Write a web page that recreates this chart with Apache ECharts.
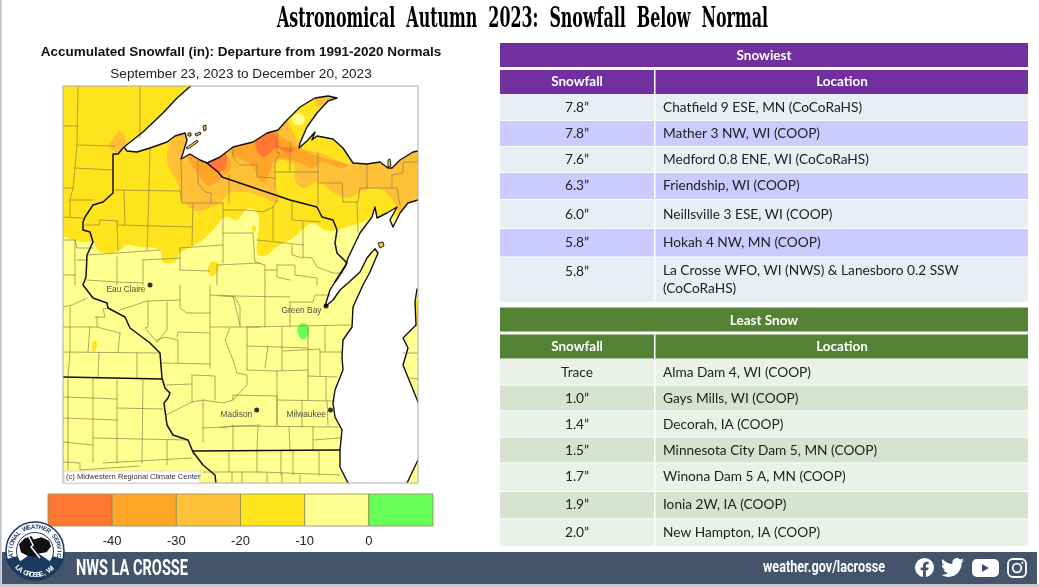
<!DOCTYPE html>
<html>
<head>
<meta charset="utf-8">
<title>Astronomical Autumn 2023: Snowfall Below Normal</title>
<script src="https://cdn.jsdelivr.net/npm/echarts@6/dist/echarts.min.js"></script>
<style>
html, body { margin: 0; padding: 0; background: #fff; }
#main { width: 1039px; height: 587px; }
</style>
</head>
<body>
<div id="main"></div>
<script>
// table values
var snowiestAmounts = ['7.8”', '7.8”', '7.6”', '6.3”', '6.0”', '5.8”', '5.8”'];
var snowiestSites = [
	'Chatfield 9 ESE, MN (CoCoRaHS)', 'Mather 3 NW, WI (COOP)', 'Medford 0.8 ENE, WI (CoCoRaHS)',
	'Friendship, WI (COOP)', 'Neillsville 3 ESE, WI (COOP)', 'Hokah 4 NW, MN (COOP)',
	'La Crosse WFO, WI (NWS) & Lanesboro 0.2 SSW\n(CoCoRaHS)'
];
var leastAmounts = ['Trace', '1.0”', '1.4”', '1.5”', '1.7”', '1.9”', '2.0”'];
var leastSites = [
	'Alma Dam 4, WI (COOP)', 'Gays Mills, WI (COOP)', 'Decorah, IA (COOP)',
	'Minnesota City Dam 5, MN (COOP)', 'Winona Dam 5 A, MN (COOP)', 'Ionia 2W, IA (COOP)',
	'New Hampton, IA (COOP)'
];

// colour scale
var departureEdges = [-50, -40, -30, -20, -10, 0, 10];
var departureColors = ['#ff7733', '#ffa629', '#ffc038', '#ffe31c', '#ffff90', '#66ff55'];

// map outlines, in map units
var bandMinus20 = [[[40, 60], [440, 60], [440, 205], [372, 218], [363, 222], [347, 227], [337, 230], [325, 230], [312, 223], [293, 238], [275, 248], [267, 255], [258, 255], [257, 240], [259, 227], [257, 212], [247, 209], [237, 220], [225, 217], [213, 230], [200, 242], [180, 253], [175, 262], [163, 262], [160, 250], [140, 247], [127, 245], [117, 252], [100, 252], [92, 242], [80, 242], [63, 236], [40, 230]],
	[[208, 268], [212, 262], [218, 263], [218, 270], [214, 276], [210, 275]],
	[[252, 227], [255, 226], [256, 231], [253, 232]],
	[[95, 340], [97, 343], [96, 349], [94, 352], [92, 348], [93, 342]],
	[[415, 302], [425, 298], [425, 330], [416, 325]]];
var bandMinus30 = [[[178, 128], [200, 110], [278, 110], [292, 130], [300, 145], [305, 150], [320, 153], [337, 160], [352, 164], [360, 150], [440, 135], [440, 215], [402, 217], [398, 210], [390, 197], [377, 188], [360, 192], [347, 198], [333, 192], [318, 182], [303, 188], [295, 180], [294, 165], [280, 160], [275, 167], [275, 182], [279, 197], [277, 203], [263, 197], [247, 192], [230, 193], [220, 203], [203, 210], [193, 210], [182, 198], [177, 182], [168, 165], [168, 148]],
	[[112, 140], [118, 132], [124, 134], [125, 145], [118, 152], [112, 150], [109, 145]],
	[[316, 98], [330, 93], [340, 97], [330, 104], [318, 106]]];
var bandMinus40 = [[[188, 156], [205, 150], [228, 158], [231, 168], [222, 177], [217, 182], [207, 185], [197, 173]],
	[[232, 140], [232, 155], [243, 160], [253, 167], [258, 177], [263, 182], [270, 172], [275, 160], [290, 160], [300, 163], [310, 168], [317, 165], [320, 162], [327, 163], [340, 168], [348, 165], [340, 162], [320, 157], [300, 148], [287, 140], [277, 132], [277, 122], [245, 125]]];
var bandBeyond40 = [[[207, 163], [212, 155], [225, 152], [226, 167], [220, 172], [213, 170]],
	[[255, 143], [262, 130], [272, 132], [278, 138], [280, 146], [295, 148], [288, 153], [277, 148], [263, 157]]];
var bandAboveNormal = [[[303, 323], [308, 326], [309, 332], [306, 338], [302, 339], [298, 334], [298, 327]]];
var paleSpots = [[[292, 118], [299, 113], [305, 119], [301, 125], [295, 124]]];

var superiorShore = [[190.7, 86], [177, 98], [163, 113], [143, 132], [124, 147], [127, 151], [137, 152], [150, 148], [167, 142], [175, 136], [185, 133], [187, 140], [183, 153], [181, 159], [190, 154], [200, 160], [207, 163], [220, 157], [233, 147], [253, 142], [267, 133], [278, 130], [287, 120], [300, 107], [315, 98], [328, 96], [337, 98], [328, 101], [317, 113], [307, 127], [300, 143], [299, 148], [308, 140], [315, 132], [312, 140], [317, 136], [333, 139], [343, 148], [353, 163], [367, 164], [380, 162], [388, 168], [392, 168], [400, 160], [413, 152], [418, 151]];
var superiorClose = [[418, 86]];
var michiganNorthShore = [[418, 200], [408, 203], [400, 213], [393, 227], [390, 220], [397, 207], [387, 213], [377, 218], [375, 207], [372, 217], [360, 233], [348, 258], [345, 267], [335, 282], [330, 290], [325, 306]];
var doorWestShore = [[326, 306], [333, 300], [340, 290], [348, 283], [360, 272], [367, 258], [372, 252], [375, 249]];
var doorEastShore = [[375, 249], [378, 253], [370, 272], [363, 285], [353, 307], [352, 327], [343, 340], [342, 357], [343, 370], [335, 390], [333, 403], [335, 417], [342, 430], [340, 450], [340, 467], [348, 483]];
var lowerPeninsulaShore = [[407, 483], [418, 460]];
var lowerPeninsulaUpper = [[418, 402], [403, 365], [408, 348], [403, 338], [416, 325], [415, 302], [417, 289]];
var michiganClose = [[418, 288]];
var islands = [[[203, 126], [206, 125], [206, 130], [204, 131]], [[195, 134], [200, 132], [201, 134], [196, 136]], [[188, 133], [191, 133], [191, 136], [188, 136]], [[186, 148], [197, 140], [198, 142], [188, 149]], [[378, 243], [383, 242], [384, 246], [380, 248]], [[388, 160], [390, 159], [391, 166], [388, 167]]];

var stateBorders = [
	[[123, 148], [118, 154], [113, 154], [113, 193], [103, 202], [93, 205], [85, 217], [83, 222], [83, 230], [90, 232], [93, 242], [87, 255], [86, 277], [83, 285], [93, 298], [107, 303], [108, 308], [125, 317], [130, 328], [150, 343], [160, 353], [162, 378], [165, 388], [170, 393], [168, 398], [164, 403], [167, 425], [173, 435], [188, 440], [193, 452], [203, 465], [215, 475], [216, 484]],
	[[63, 377], [162, 379]],
	[[193, 451], [340, 450]],
	[[207, 163], [218, 172], [222, 177], [290, 200], [317, 207], [322, 217], [333, 220], [337, 230], [335, 243], [337, 253], [347, 263], [335, 282]]
];
var countyLines = [
	[[78, 87], [77, 145], [75, 168], [73, 188], [70, 200], [70, 217]], [[140, 87], [140, 138]], [[63, 126], [78, 126]],
	[[77, 145], [115, 146]], [[75, 168], [113, 170]], [[63, 188], [73, 188]], [[70, 200], [93, 200]], [[63, 217], [83, 218]],
	[[150, 147], [149, 188], [148, 223], [147, 250]], [[115, 190], [180, 191]], [[124, 190], [125, 225]],
	[[180, 191], [182, 203], [223, 203]], [[181, 160], [182, 203]], [[193, 203], [192, 245]], [[100, 220], [118, 221]], [[100, 220], [99, 225], [85, 225]],
	[[118, 225], [192, 227]], [[117, 221], [118, 250]], [[180, 248], [180, 270]], [[180, 248], [223, 245]], [[223, 203], [223, 245], [223, 263]],
	[[180, 270], [210, 271]], [[218, 265], [260, 263]], [[217, 265], [217, 285]], [[198, 160], [198, 183], [205, 192], [211, 193], [211, 203]], [[229, 175], [229, 203]],
	[[223, 233], [253, 233], [255, 262], [265, 265], [265, 285]], [[88, 255], [160, 250]], [[117, 257], [117, 285]], [[87, 280], [117, 282], [143, 283]], [[143, 260], [143, 285]], [[143, 260], [180, 258]],
	[[63, 240], [75, 240], [77, 248], [93, 248]], [[75, 240], [75, 285]], [[77, 260], [87, 260]], [[63, 275], [75, 275]],
	[[233, 148], [233, 158], [240, 165], [257, 165], [257, 177], [275, 178]], [[277, 130], [277, 153], [280, 153], [275, 162], [275, 187]], [[275, 172], [318, 172]], [[318, 153], [318, 205]],
	[[290, 142], [290, 172]], [[318, 183], [342, 183], [343, 202]], [[367, 165], [367, 188]], [[360, 188], [397, 188], [400, 205]], [[360, 188], [358, 202], [343, 202]], [[357, 202], [358, 232]],
	[[392, 175], [392, 187]], [[392, 175], [403, 173], [403, 162], [418, 162]], [[223, 210], [247, 210], [263, 212], [273, 207], [277, 200]], [[273, 207], [273, 240]],
	[[292, 202], [292, 220], [320, 222]], [[303, 222], [303, 245]], [[257, 240], [303, 245]], [[292, 245], [292, 255], [303, 258]], [[303, 245], [303, 257], [312, 258], [317, 267], [333, 273], [343, 273]],
	[[277, 265], [295, 265], [295, 275], [317, 278], [317, 285]], [[265, 270], [277, 270]], [[277, 265], [277, 277], [290, 280]],
	[[63, 307], [72, 305], [87, 298]], [[70, 307], [70, 327], [70, 352], [68, 377]], [[63, 327], [97, 327]], [[95, 317], [105, 317], [103, 309], [108, 308]], [[90, 327], [88, 352]], [[97, 317], [97, 327], [120, 333]], [[120, 333], [118, 352]],
	[[63, 352], [160, 353]], [[99, 353], [98, 377]], [[137, 353], [137, 378]], [[148, 301], [148, 327], [145, 328], [157, 342]], [[120, 310], [147, 301], [180, 300]], [[167, 302], [167, 330], [157, 342]],
	[[157, 340], [165, 337], [178, 340], [178, 363]], [[177, 337], [178, 332], [210, 333]], [[180, 285], [180, 308], [187, 313], [210, 313]], [[210, 285], [210, 368]], [[210, 295], [235, 297], [240, 307], [240, 327]], [[210, 327], [260, 327]],
	[[162, 363], [210, 364]], [[192, 375], [215, 376], [215, 400]], [[192, 375], [192, 402]], [[166, 385], [192, 384]],
	[[166, 415], [192, 402], [203, 400], [223, 403], [233, 400], [247, 385], [247, 375], [237, 373], [233, 360], [225, 340], [230, 328]],
	[[203, 400], [203, 442]], [[203, 428], [260, 425]], [[233, 400], [233, 395], [277, 396], [277, 425]], [[233, 425], [233, 450]],
	[[93, 378], [93, 462]], [[117, 380], [117, 463]], [[143, 380], [142, 463]], [[167, 440], [167, 465]], [[63, 397], [93, 398], [117, 399]], [[117, 408], [163, 409]], [[63, 418], [117, 420]], [[93, 438], [188, 440]], [[63, 442], [93, 445]], [[68, 379], [68, 470]], [[63, 462], [80, 463], [80, 470], [140, 466]], [[103, 463], [192, 458]],
	[[229, 452], [229, 472]], [[203, 472], [260, 472]], [[232, 472], [232, 484]], [[220, 295], [233, 296], [240, 325]], [[265, 285], [265, 327]], [[233, 296], [290, 297]], [[290, 302], [290, 327]], [[290, 302], [313, 302], [315, 295], [330, 295]],
	[[247, 327], [350, 325]], [[247, 327], [247, 370]], [[247, 346], [308, 348]], [[268, 346], [265, 368]], [[282, 327], [282, 370]], [[308, 327], [308, 375]], [[325, 327], [325, 352]], [[283, 351], [320, 349], [320, 375]], [[320, 352], [342, 352]],
	[[247, 370], [277, 371], [308, 370]], [[277, 371], [277, 425]], [[308, 375], [308, 400]], [[308, 376], [337, 377]], [[326, 377], [326, 400]], [[277, 400], [335, 401]], [[302, 401], [302, 427]], [[327, 401], [328, 425]], [[220, 428], [233, 426], [338, 427]],
	[[258, 426], [257, 450]], [[289, 427], [290, 450]], [[313, 427], [313, 440], [340, 438]], [[313, 440], [313, 450]],
	[[257, 451], [257, 472]], [[281, 451], [281, 475]], [[293, 451], [293, 475]], [[319, 451], [319, 475]], [[260, 472], [340, 475]], [[242, 472], [242, 484]], [[267, 473], [267, 484]], [[282, 474], [282, 484]], [[300, 475], [300, 484]],
	[[403, 353], [417, 353]], [[410, 378], [418, 379]]
];
var cities = [['Eau Claire', 150, 285], ['Green Bay', 326, 306], ['Madison', 256.7, 410], ['Milwaukee', 330.5, 410]];

var mapLeft = 63, mapTop = 86, mapWidth = 355, mapHeight = 397;
var bodyFont = 'Lato, "Open Sans", sans-serif';
var navy = '#44546a';

function polygonSeries(rings, fill, smooth, stroke) {
	return {
		type: 'custom', xAxisIndex: 0, yAxisIndex: 0, silent: true, clip: true,
		data: rings.map(function(r, i) { return [i]; }),
		renderItem: function(params, api) {
			var pts = rings[api.value(0)].map(function(p) { return api.coord(p); });
			return {
				type: 'polygon',
				shape: { points: pts, smooth: smooth },
				style: { fill: fill, stroke: stroke || 'none', lineWidth: stroke ? 0.9 : 0 }
			};
		}
	};
}

function lineSeries(lines, stroke, width) {
	return {
		type: 'custom', xAxisIndex: 0, yAxisIndex: 0, silent: true, clip: true,
		data: lines.map(function(r, i) { return [i]; }),
		renderItem: function(params, api) {
			var pts = lines[api.value(0)].map(function(p) { return api.coord(p); });
			return {
				type: 'polyline',
				shape: { points: pts },
				style: { fill: 'none', stroke: stroke, lineWidth: width, lineJoin: 'round', lineCap: 'round' }
			};
		}
	};
}

// squeeze a string to the width it has in the picture
var measureCtx = document.createElement('canvas').getContext('2d');
function fitScale(text, font, width) {
	measureCtx.font = font;
	return width / measureCtx.measureText(text).width;
}

function rect(x, y, w, h, fill) {
	return { type: 'rect', z: 100, silent: true, shape: { x: x, y: y, width: w, height: h }, style: { fill: fill } };
}

function label(text, x, y, font, fill, align) {
	return {
		type: 'text', z: 101, silent: true, x: x, y: y,
		style: { text: text, font: font, fill: fill, align: align || 'left', verticalAlign: 'middle', lineHeight: 18 }
	};
}

function fittedLabel(text, x, y, font, fill, width) {
	var el = label(text, x, y, font, fill);
	el.scaleX = fitScale(text, font, width);
	return el;
}

function buildTable(top, title, headColor, oddColor, evenColor, amounts, sites, rowEdges, textCentres) {
	var left = 500, right = 1028, split = 655;
	var els = [
		rect(left, top, right - left, 24, headColor),
		rect(left, top + 27, right - left, 24, headColor),
		label(title, (left + right) / 2, top + 13, 'bold 13.5px ' + bodyFont, '#fff', 'center'),
		label('Snowfall', 577, top + 39, 'bold 13.5px ' + bodyFont, '#fff', 'center'),
		label('Location', 842, top + 39, 'bold 13.5px ' + bodyFont, '#fff', 'center')
	];
	amounts.forEach(function(a, i) {
		els.push(rect(left, rowEdges[i], right - left, rowEdges[i + 1] - rowEdges[i] - 1, i % 2 ? evenColor : oddColor));
		els.push(label(a, 577, textCentres[i] + 0.5, '13.7px ' + bodyFont, '#222', 'center'));
		var site = label(sites[i], 663, textCentres[i] + 0.5, '13.7px ' + bodyFont, '#222');
		if (sites[i].indexOf('\n') > 0) {
			site.y = textCentres[i] + 9;
		}
		els.push(site);
	});
	els.push(rect(split - 1, top + 27, 1.5, rowEdges[amounts.length] - top - 27, '#fff'));
	return els;
}

function ringText(text, cx, cy, r, fromDeg, toDeg, font, fill, flip) {
	var chars = text.split('');
	return chars.map(function(c, i) {
		var deg = fromDeg + (toDeg - fromDeg) * i / (chars.length - 1);
		var rad = deg * Math.PI / 180;
		return {
			type: 'text', z: 104, silent: true,
			x: cx + r * Math.sin(rad), y: cy - r * Math.cos(rad),
			rotation: flip ? Math.PI - rad : -rad,
			style: { text: c, font: font, fill: fill, align: 'center', verticalAlign: 'middle' }
		};
	});
}

function buildLogo() {
	var cx = 35, cy = 551;
	var els = [
		{ type: 'circle', z: 102, silent: true, shape: { cx: cx, cy: cy, r: 29 }, style: { fill: '#fff', stroke: '#1c3a5e', lineWidth: 1.5 } },
		{ type: 'sector', z: 102, silent: true, shape: { cx: cx, cy: cy, r: 29, r0: 0, startAngle: 0.28, endAngle: Math.PI - 0.28 }, style: { fill: '#1c3a5e' } },
		{ type: 'circle', z: 102, silent: true, shape: { cx: cx, cy: cy, r: 18.5 }, style: { fill: '#fff', stroke: '#1c3a5e', lineWidth: 1 } },
		{ type: 'sector', z: 102, silent: true, shape: { cx: cx, cy: cy, r: 18.5, r0: 0, startAngle: 0.6, endAngle: Math.PI - 0.6 }, style: { fill: '#1c3a5e' } },
		{ type: 'polyline', z: 104, silent: true, shape: { points: [[28, 535], [33, 545], [31, 547], [40, 558]] }, style: { stroke: '#fff', lineWidth: 1.5, fill: 'none' } }
	];
	return els.concat(
		ringText('NATIONAL WEATHER SERVICE', cx, cy, 24, -110, 110, 'bold 6.2px "Liberation Sans"', '#1c3a5e', false),
		ringText('LA CROSSE, WI', cx, cy, 24, 226, 134, 'bold 7px "Liberation Sans"', '#fff', true)
	);
}

function buildIcons() {
	return [
		{ type: 'rect', z: 101, silent: true, shape: { x: 972, y: 559, width: 27, height: 18, r: 5 }, style: { fill: '#fff' } },
		{ type: 'polygon', z: 102, silent: true, shape: { points: [[982, 564], [982, 572], [989, 568]] }, style: { fill: navy } },
		{ type: 'rect', z: 101, silent: true, shape: { x: 1008, y: 559, width: 18, height: 18, r: 5 }, style: { fill: 'none', stroke: '#fff', lineWidth: 1.8 } },
		{ type: 'circle', z: 101, silent: true, shape: { cx: 1017, cy: 568, r: 4.3 }, style: { fill: 'none', stroke: '#fff', lineWidth: 1.8 } },
		{ type: 'circle', z: 101, silent: true, shape: { cx: 1022.3, cy: 562.8, r: 1.1 }, style: { fill: '#fff' } }
	];
}

// svg glyphs: the graphic component has no path type, a custom series does
var glyphs = [
	{ d: 'M24 12a12 12 0 1 0-13.9 11.85V15.5H7.1V12h3V9.4c0-3 1.8-4.7 4.5-4.7 1.3 0 2.7.2 2.7.2v3h-1.5c-1.5 0-2 .9-2 1.9V12h3.3l-.5 3.5h-2.8v8.35A12 12 0 0 0 24 12z', x: 915, y: 558, w: 19, h: 19, fill: '#fff' },
	{ d: 'M23.95 4.57a10 10 0 0 1-2.82.77 4.96 4.96 0 0 0 2.16-2.72c-.95.55-2 .96-3.12 1.19a4.92 4.92 0 0 0-8.38 4.48C7.69 8.1 4.07 6.13 1.64 3.16a4.82 4.82 0 0 0-.67 2.48c0 1.71.87 3.21 2.19 4.1a4.9 4.9 0 0 1-2.23-.61v.06a4.92 4.92 0 0 0 3.95 4.83 5 5 0 0 1-2.21.08 4.94 4.94 0 0 0 4.6 3.42A9.87 9.87 0 0 1 0 19.54a14 14 0 0 0 7.56 2.21c9.05 0 14-7.5 14-13.98 0-.21 0-.42-.02-.63a9.94 9.94 0 0 0 2.46-2.55z', x: 941, y: 558, w: 23, h: 19, fill: '#fff' },
	{ d: 'M3 22 L12 12 L22 8 L26 14 L38 10 L50 16 L53 26 L46 36 L34 38 L28 44 L16 42 L6 36 Z', x: 19, y: 536, w: 32, h: 21, fill: '#111' }
];

var titleFont = 'bold 28px "DejaVu Serif"';
var bannerFont = 'bold 22px Roboto';
var urlFont = 'bold 17px Roboto';
var graphicElements = [
	rect(0, 0, 1.5, 587, '#b4bfca'),
	fittedLabel('Astronomical  Autumn  2023:  Snowfall  Below  Normal', 277, 20, titleFont, '#000', 491),
	{ type: 'rect', z: 100, silent: true, shape: { x: mapLeft, y: mapTop, width: mapWidth, height: mapHeight }, style: { fill: 'none', stroke: '#aaa', lineWidth: 1 } },
	rect(mapLeft + 1, 471, 136, 12, '#fff'),
	{ type: 'rect', z: 100, silent: true, shape: { x: mapLeft + 1, y: 471, width: 136, height: 12 }, style: { fill: 'none', stroke: '#ccc', lineWidth: 0.7 } },
	label('(c) Midwestern Regional Climate Center', 66, 477, '7.6px "Liberation Sans"', '#333'),
	rect(2, 552, 1035, 32, navy),
	rect(0, 584, 1039, 3, '#c9c9c9'),
	fittedLabel('NWS LA CROSSE', 76, 569, bannerFont, '#fff', 112),
	fittedLabel('weather.gov/lacrosse', 763, 568, urlFont, '#fff', 122)
].concat(
	buildTable(43, 'Snowiest', '#7030a0', '#e9edf4', '#cbcbff', snowiestAmounts, snowiestSites,
		[94, 121, 147, 173, 200, 229, 257.5, 303], [107, 133, 159, 185, 214, 242, 271]),
	buildTable(307.5, 'Least Snow', '#548235', '#ebf1e9', '#d5e3cf', leastAmounts, leastSites,
		[359, 385.5, 411.5, 437.5, 463.5, 492, 519.5, 547], [372, 398, 424, 450, 476, 504, 532]),
	buildLogo(),
	buildIcons()
);

var myChart = echarts.init(document.getElementById('main'), null, { renderer: 'canvas' });
var option = {
	animation: false,
	backgroundColor: '#fff',
	title: [{
		text: 'Accumulated Snowfall (in): Departure from 1991-2020 Normals',
		left: 236, top: 40, textAlign: 'center',
		textStyle: { fontFamily: 'Liberation Sans', fontWeight: 'bold', fontSize: 13.5, color: '#111' }
	}, {
		text: 'September 23, 2023 to December 20, 2023',
		left: 236, top: 62, textAlign: 'center',
		textStyle: { fontFamily: 'Liberation Sans', fontWeight: 'normal', fontSize: 13.6, color: '#222' }
	}],
	grid: [
		{ left: mapLeft, top: mapTop, width: mapWidth, height: mapHeight },
		{ left: 48, top: 494, width: 385, height: 32 }
	],
	xAxis: [
		{ gridIndex: 0, type: 'value', min: mapLeft, max: mapLeft + mapWidth, show: false },
		{
			gridIndex: 1, type: 'value', min: -50, max: 10, interval: 10,
			axisLine: { show: false }, axisTick: { show: false }, splitLine: { show: false },
			axisLabel: {
				margin: 9, fontFamily: 'Liberation Sans', fontSize: 13, color: '#222',
				formatter: function(v) { return v === -50 || v === 10 ? '' : String(v); }
			}
		}
	],
	yAxis: [
		{ gridIndex: 0, type: 'value', min: mapTop, max: mapTop + mapHeight, inverse: true, show: false },
		{ gridIndex: 1, type: 'value', min: 0, max: 1, show: false }
	],
	series: [
		polygonSeries([[[mapLeft, mapTop], [mapLeft + mapWidth, mapTop], [mapLeft + mapWidth, mapTop + mapHeight], [mapLeft, mapTop + mapHeight]]], departureColors[4], 0),
		polygonSeries(bandMinus20, departureColors[3], 0.35),
		polygonSeries(paleSpots, departureColors[4], 0.35),
		polygonSeries(bandMinus30, departureColors[2], 0.35),
		polygonSeries(bandMinus40, departureColors[1], 0.35),
		polygonSeries(bandBeyond40, departureColors[0], 0.35),
		polygonSeries(bandAboveNormal, departureColors[5], 0.4),
		polygonSeries([superiorShore.concat(superiorClose)], '#fff', 0),
		polygonSeries([michiganNorthShore.concat(doorWestShore, doorEastShore, lowerPeninsulaShore, lowerPeninsulaUpper, michiganClose)], '#fff', 0),
		polygonSeries(islands, departureColors[2], 0, '#111'),
		lineSeries(countyLines, '#8c8344', 0.7),
		lineSeries([superiorShore, michiganNorthShore, doorWestShore, doorEastShore, lowerPeninsulaShore, lowerPeninsulaUpper], '#111', 1.4),
		lineSeries(stateBorders, '#111', 1.5),
		{
			type: 'scatter', xAxisIndex: 0, yAxisIndex: 0, silent: true,
			symbolSize: 5, itemStyle: { color: '#000' },
			data: cities.map(function(c) { return { name: c[0], value: [c[1], c[2]] }; }),
			label: {
				show: true, position: 'left', distance: 2, offset: [0, 5],
				formatter: '{b}', fontFamily: 'Liberation Sans', fontSize: 8.4, color: '#222'
			}
		},
		{
			type: 'custom', xAxisIndex: 1, yAxisIndex: 1, silent: true,
			data: departureColors.map(function(c, i) { return [departureEdges[i], departureEdges[i + 1], i]; }),
			encode: { x: [0, 1] },
			renderItem: function(params, api) {
				var a = api.coord([api.value(0), 1]);
				var b = api.coord([api.value(1), 0]);
				return {
					type: 'rect',
					shape: { x: a[0], y: a[1], width: b[0] - a[0], height: b[1] - a[1] },
					style: { fill: departureColors[api.value(2)], stroke: '#8f8a50', lineWidth: 0.8 }
				};
			}
		},
		{
			type: 'custom', coordinateSystem: 'none', silent: true, z: 103,
			data: glyphs.map(function(g, i) { return [i]; }),
			renderItem: function(params, api) {
				var g = glyphs[api.value(0)];
				return {
					type: 'path',
					shape: { pathData: g.d, layout: 'cover', x: g.x, y: g.y, width: g.w, height: g.h },
					style: { fill: g.fill }
				};
			}
		}
	]
};
option.graphic = { elements: graphicElements };
myChart.setOption(option);
</script>
</body>
</html>
